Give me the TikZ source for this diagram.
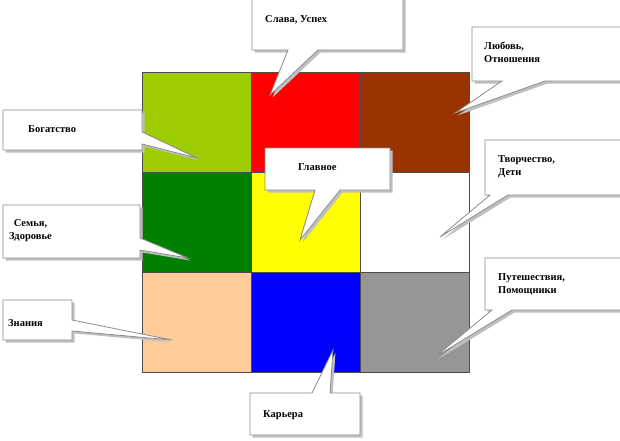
\documentclass[tikz,border=0pt]{standalone}
\usepackage{fontspec}
\setmainfont{Liberation Serif}
\begin{document}
\begin{tikzpicture}[x=1pt,y=-1pt,
  cell/.style={draw=black!70,line width=0.8pt},
  co/.style={fill=white,draw=black!45,line width=0.8pt},
  sh/.style={fill=black!25,draw=none,shift={(2.5,2.5)}},
  lab/.style={font=\bfseries\fontsize{10.5}{13}\selectfont,align=left,inner sep=0pt,anchor=west}]
\useasboundingbox (0,0) rectangle (620,440);
\clip (0,0) rectangle (620,440);
\definecolor{c1}{RGB}{157,204,0}\definecolor{c2}{RGB}{255,0,0}\definecolor{c3}{RGB}{153,51,0}
\definecolor{c4}{RGB}{0,128,0}\definecolor{c5}{RGB}{255,255,0}\definecolor{c6}{RGB}{255,255,255}
\definecolor{c7}{RGB}{255,204,153}\definecolor{c8}{RGB}{0,0,255}\definecolor{c9}{RGB}{150,150,150}
\foreach \c/\x/\y in {c1/142/72,c2/251/72,c3/360/72,c4/142/172,c5/251/172,c6/360/172,c7/142/272,c8/251/272,c9/360/272}
  \fill[\c] (\x,\y) rectangle ++(109,100);
\draw[cell] (142,72) rectangle (469,372);
\foreach \x in {251,360} \draw[cell] (\x,72) -- (\x,372);
\foreach \y in {172,272} \draw[cell] (142,\y) -- (469,\y);
\foreach \p in {
 {(252,-5)--(403,-5)--(403,50)--(318,50)--(270,95)--(288,50)--(252,50)--cycle},
 {(472,27)--(625,27)--(625,81)--(545,81)--(455,113)--(502,81)--(472,81)--cycle},
 {(3,110)--(142,110)--(142,132)--(197,158)--(142,144)--(142,150)--(3,150)--cycle},
 {(265,148)--(390,148)--(390,190)--(340,190)--(300,240)--(315,190)--(265,190)--cycle},
 {(3,205)--(140,205)--(140,238)--(188,258)--(140,250)--(140,258)--(3,258)--cycle},
 {(3,300)--(72,300)--(72,320)--(172,340)--(72,331)--(72,340)--(3,340)--cycle},
 {(485,140)--(625,140)--(625,195)--(508,195)--(440,237)--(490,195)--(485,195)--cycle},
 {(485,258)--(625,258)--(625,310)--(512,310)--(435,357)--(492,310)--(485,310)--cycle},
 {(250,393)--(312,393)--(333,350)--(330,393)--(360,393)--(360,435)--(250,435)--cycle}}
 {\fill[sh] \p; \draw[co] \p;}
\node[lab] (slava) at (265,20) {Слава, Успех};
\node[lab] (lub) at (484,52) {Любовь,\\Отношения};
\node[lab] (bog) at (28,129) {Богатство};
\node[lab] (glav) at (298,167) {Главное};
\node[lab,align=center] (sem) at (9,231) {Семья,\\Здоровье};
\node[lab] (zn) at (8,323) {Знания};
\node[lab] (tv) at (498,167) {Творчество,\\Дети};
\node[lab] (put) at (498,284) {Путешествия,\\Помощники};
\node[lab] (kar) at (263,415) {Карьера};
\end{tikzpicture}
\end{document}
